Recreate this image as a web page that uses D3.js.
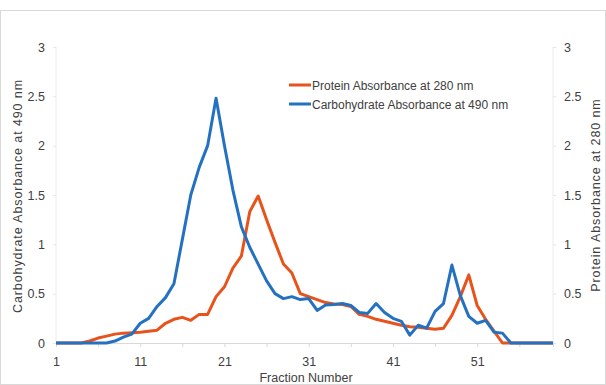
<!DOCTYPE html>
<html><head><meta charset="utf-8">
<script src="https://cdn.jsdelivr.net/npm/d3@7"></script>
<style>
html,body{margin:0;padding:0;background:#fff;}
svg text{font-family:"Liberation Sans",Arial,sans-serif;fill:#404040;}
</style></head>
<body><svg id="c" width="606" height="385"></svg>
<script>
const fractions = d3.range(1, 61);
const carbohydrate = [0,0,0,0,0,0,0,0.02,0.06,0.09,
  0.2,0.25,0.37,0.46,0.6,1.05,1.5,1.78,2.0,2.48,
  2.0,1.55,1.18,0.97,0.8,0.63,0.5,0.45,0.47,0.44,
  0.45,0.33,0.385,0.39,0.4,0.38,0.31,0.3,0.4,0.31,
  0.25,0.22,0.08,0.18,0.15,0.32,0.4,0.79,0.48,0.27,
  0.2,0.23,0.11,0.1,0,0,0,0,0,0];
const protein = [0,0,0,0,0.02,0.05,0.07,0.09,0.1,0.105,
  0.11,0.12,0.13,0.2,0.24,0.26,0.23,0.29,0.29,0.47,
  0.57,0.76,0.88,1.33,1.49,1.25,1.02,0.8,0.71,0.5,
  0.47,0.44,0.41,0.395,0.39,0.37,0.29,0.27,0.24,0.22,
  0.2,0.18,0.165,0.16,0.15,0.14,0.15,0.28,0.47,0.69,
  0.38,0.24,0.12,0,0,0,0,0,0,0];
const xTickLabels = [1,11,21,31,41,51];
const yTicks = [0,0.5,1,1.5,2,2.5,3];
const seriesNames = ["Protein Absorbance at 280 nm","Carbohydrate Absorbance at 490 nm"];
const colors = {protein:"#E8531C", carb:"#2471C2"};

const svg = d3.select("#c");
svg.append("rect").attr("x",0.5).attr("y",10.5).attr("width",605).attr("height",374)
  .attr("fill","#fff").attr("stroke","#d9d9d9");

const x = d3.scaleLinear().domain([1,60]).range([56,553]);
const yL = d3.scaleLinear().domain([0,3]).range([343,47]);
const yR = d3.scaleLinear().domain([0,3]).range([343,47]);

svg.append("line").attr("x1",x(1)).attr("x2",x(1)).attr("y1",yL(3)).attr("y2",yL(0)).attr("stroke","#ececec");
svg.append("line").attr("x1",x(60)).attr("x2",x(60)).attr("y1",yR(3)).attr("y2",yR(0)).attr("stroke","#ececec");

const gL = svg.append("g").attr("transform",`translate(${x(1)},0)`)
  .call(d3.axisLeft(yL).tickValues(yTicks).tickSize(3).tickPadding(8).tickFormat(d3.format("~g")));
gL.select(".domain").remove();
gL.selectAll("line").attr("stroke","#e6e6e6");
gL.selectAll("text").attr("font-size",12.5);

const gR = svg.append("g").attr("transform",`translate(${x(60)},0)`)
  .call(d3.axisRight(yR).tickValues(yTicks).tickSize(3).tickPadding(8).tickFormat(d3.format("~g")));
gR.select(".domain").remove();
gR.selectAll("line").attr("stroke","#e6e6e6");
gR.selectAll("text").attr("font-size",12.5);

const gB = svg.append("g").attr("transform",`translate(0,${yL(0)})`)
  .call(d3.axisBottom(x).tickValues(d3.range(1,61,5)).tickSize(4).tickPadding(10)
    .tickFormat(d => xTickLabels.includes(d) ? d : ""));
gB.select(".domain").attr("stroke","#d9d9d9");
gB.selectAll("line").attr("stroke","#d9d9d9");
gB.selectAll("text").attr("font-size",12.5);

svg.append("text").attr("transform","translate(22,196) rotate(-90)").attr("text-anchor","middle")
  .attr("font-size",12.5).attr("letter-spacing",0.9).text("Carbohydrate Absorbance at 490 nm");
svg.append("text").attr("transform","translate(600,195) rotate(-90)").attr("text-anchor","middle")
  .attr("font-size",12.5).attr("letter-spacing",0.9).text("Protein Absorbance at 280 nm");
svg.append("text").attr("x",306).attr("y",382).attr("text-anchor","middle")
  .attr("font-size",12.5).text("Fraction Number");

const lineL = d3.line().x((d,i)=>x(fractions[i])).y(d=>yL(d));
const lineR = d3.line().x((d,i)=>x(fractions[i])).y(d=>yR(d));
svg.append("path").datum(protein).attr("d",lineR).attr("fill","none")
  .attr("stroke",colors.protein).attr("stroke-width",3).attr("stroke-linejoin","round");
svg.append("path").datum(carbohydrate).attr("d",lineL).attr("fill","none")
  .attr("stroke",colors.carb).attr("stroke-width",3).attr("stroke-linejoin","round");

const leg = svg.append("g");
[[seriesNames[0],colors.protein,85],[seriesNames[1],colors.carb,104]].forEach(([t,c,yy])=>{
  leg.append("line").attr("x1",289).attr("x2",311).attr("y1",yy).attr("y2",yy).attr("stroke",c).attr("stroke-width",3);
  leg.append("text").attr("x",312).attr("y",yy+4.5).attr("font-size",12).attr("fill","#262626").text(t);
});
</script></body></html>
